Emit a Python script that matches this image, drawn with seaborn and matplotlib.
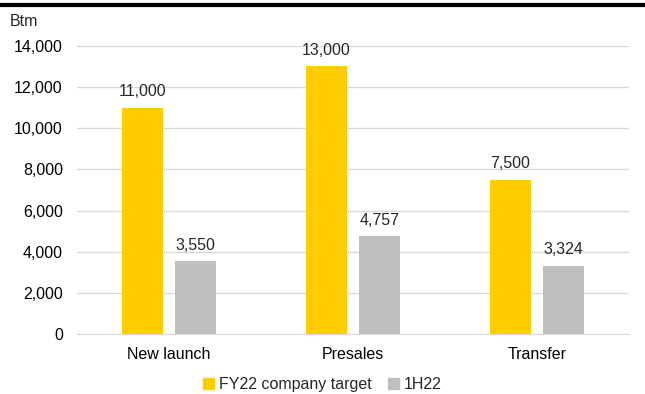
import matplotlib
matplotlib.use('Agg')
import matplotlib.pyplot as plt
from matplotlib.lines import Line2D
from matplotlib.patches import Patch
from matplotlib.ticker import FuncFormatter
import seaborn as sns
import pandas as pd

categories = ['New launch', 'Presales', 'Transfer']
series = ['FY22 company target', '1H22']
target = [11000, 13000, 7500]
actual = [3550, 4757, 3324]
colors = ['#FFCC00', '#BFBFBF']

df = pd.DataFrame({
    'category': categories * 2,
    'series': [series[0]] * 3 + [series[1]] * 3,
    'value': target + actual,
})

sns.set_style('white')
plt.rcParams['font.family'] = ['Liberation Sans', 'DejaVu Sans']

fig = plt.figure(figsize=(6.45, 3.94), dpi=100)
ax = fig.add_axes([0.119, 0.152, 0.856, 0.732])

sns.barplot(data=df, x='category', y='value', hue='series', palette=colors,
            width=0.576, gap=0.226, ax=ax, legend=False, saturation=1,
            linewidth=0, edgecolor='none')

ax.set_ylim(0, 14000)
ax.set_xlim(-0.5, 2.5)
ax.set_yticks(range(0, 14001, 2000))
ax.yaxis.set_major_formatter(FuncFormatter(lambda v, p: f'{int(v):,}'))
ax.grid(axis='y', color='#D9D9D9', linewidth=1)
ax.set_axisbelow(True)
for s in ['top', 'right', 'left']:
    ax.spines[s].set_visible(False)
ax.spines['bottom'].set_color('#D9D9D9')
ax.tick_params(axis='both', length=0, labelsize=11.5, colors='#000000')
ax.tick_params(axis='x', pad=9)
ax.tick_params(axis='y', pad=10)
ax.set_xlabel('')
ax.set_ylabel('')

for cont in ax.containers:
    ax.bar_label(cont, labels=[f'{int(v):,}' for v in cont.datavalues],
                 padding=6, fontsize=11.5)

fig.text(0.015, 0.945, 'Btm', fontsize=11.5, va='center', ha='left')
fig.add_artist(Line2D([0, 1], [0.987, 0.987], color='black', linewidth=3))

handles = [Patch(color=c) for c in colors]
fig.legend(handles, series, loc='center', bbox_to_anchor=(0.5, 0.024), ncol=2,
           frameon=False, fontsize=11.5, handlelength=0.7, handleheight=0.7,
           handletextpad=0.3, columnspacing=1.0)

fig.savefig('out.png', dpi=100)
